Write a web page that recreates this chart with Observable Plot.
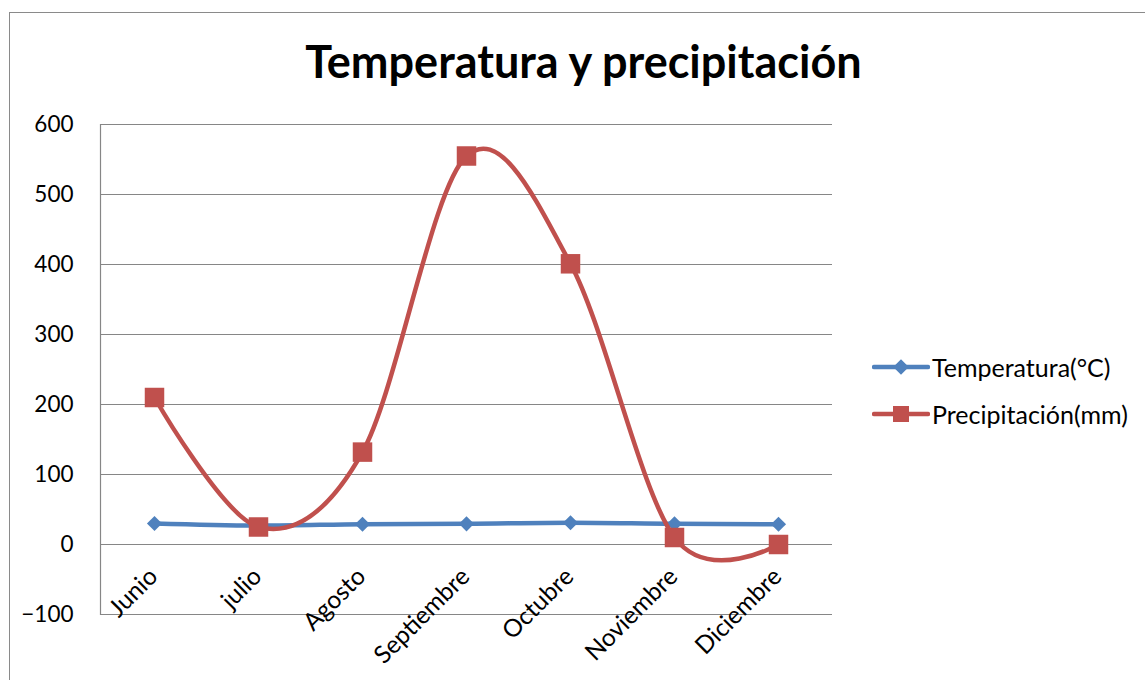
<!DOCTYPE html>
<html><head><meta charset="utf-8">
<script src="https://cdn.jsdelivr.net/npm/d3@7"></script>
<script src="https://cdn.jsdelivr.net/npm/@observablehq/plot@0.6"></script>
<style>
body{margin:0;background:#fff;overflow:hidden}
#wrap{position:relative;width:1145px;height:680px;font-family:Lato,sans-serif;overflow:hidden}
#border{position:absolute;left:9px;top:12px;width:1200px;height:720px;border:1.5px solid #8a8a8a;box-sizing:border-box}
#title{position:absolute;left:0;width:1167px;top:33px;text-align:center;font-weight:bold;font-size:45px;line-height:56px;color:#000}
#chart{position:absolute;left:0;top:0}
#legend{position:absolute;left:872px;top:352px;font-size:25px;color:#000}
.row{display:flex;align-items:center;height:30px;margin-bottom:17px}
.row svg{margin-right:2px}
</style></head>
<body>
<div id="wrap">
  <div id="border"></div>
  <div id="chart"></div>
  <div id="title">Temperatura y precipitación</div>
  <div id="legend"></div>
</div>
<script>
const months = ["Junio","julio","Agosto","Septiembre","Octubre","Noviembre","Diciembre"];
const temperatura = [30, 27, 29, 29.5, 31, 29.5, 29];
const precipitacion = [210, 25, 132, 555, 401, 10, 0];
const yTicks = [-100, 0, 100, 200, 300, 400, 500, 600];
const seriesNames = ["Temperatura(°C)", "Precipitación(mm)"];
const colors = ["#4F81BD", "#C0504D"];

const tData = months.map((m, i) => ({month: m, value: temperatura[i]}));
const pData = months.map((m, i) => ({month: m, value: precipitacion[i]}));

const plot = Plot.plot({
  width: 1145,
  height: 680,
  marginLeft: 100,
  marginRight: 313,
  marginTop: 124,
  marginBottom: 66,
  style: {background: "transparent", fontFamily: "Lato, sans-serif"},
  x: {type: "point", domain: months, padding: 0.5, axis: null},
  y: {domain: [-100, 600], ticks: yTicks},
  marks: [
    Plot.gridY(yTicks, {stroke: "#868686", strokeOpacity: 1, strokeWidth: 1.2}),
    Plot.frame({anchor: "left", stroke: "#868686", strokeWidth: 1.2}),
    Plot.axisY(yTicks, {tickSize: 0, tickPadding: 27, fontSize: 22.5, fill: "#000", label: null}),
    Plot.text(months, {x: d => d, y: () => 0, text: d => d, rotate: -45, textAnchor: "end", lineAnchor: "middle", dx: -1, dy: 28, fontSize: 24.5, fill: "#000"}),
    Plot.line(tData, {x: "month", y: "value", stroke: colors[0], strokeWidth: 4.5, curve: "cardinal", tension: 0}),
    Plot.dot(tData, {x: "month", y: "value", symbol: "diamond2", r: 6.8, fill: colors[0], stroke: null}),
    Plot.line(pData, {x: "month", y: "value", stroke: colors[1], strokeWidth: 4.5, curve: "cardinal", tension: 0}),
    Plot.dot(pData, {x: "month", y: "value", symbol: "square", r: 11, fill: colors[1], stroke: null})
  ]
});
document.getElementById("chart").appendChild(plot);

const legend = document.getElementById("legend");
seriesNames.forEach((name, i) => {
  const row = document.createElement("div");
  row.className = "row";
  const marker = i === 0
    ? `<rect x="23.5" y="4.5" width="11" height="11" transform="rotate(45 29 10)" fill="${colors[0]}"/>`
    : `<rect x="21" y="2" width="16" height="16" fill="${colors[1]}"/>`;
  row.innerHTML = `<svg width="58" height="20"><line x1="2" y1="10" x2="56" y2="10" stroke="${colors[i]}" stroke-width="4.5" stroke-linecap="round"/>${marker}</svg><span>${name}</span>`;
  legend.appendChild(row);
});
</script>
</body></html>
